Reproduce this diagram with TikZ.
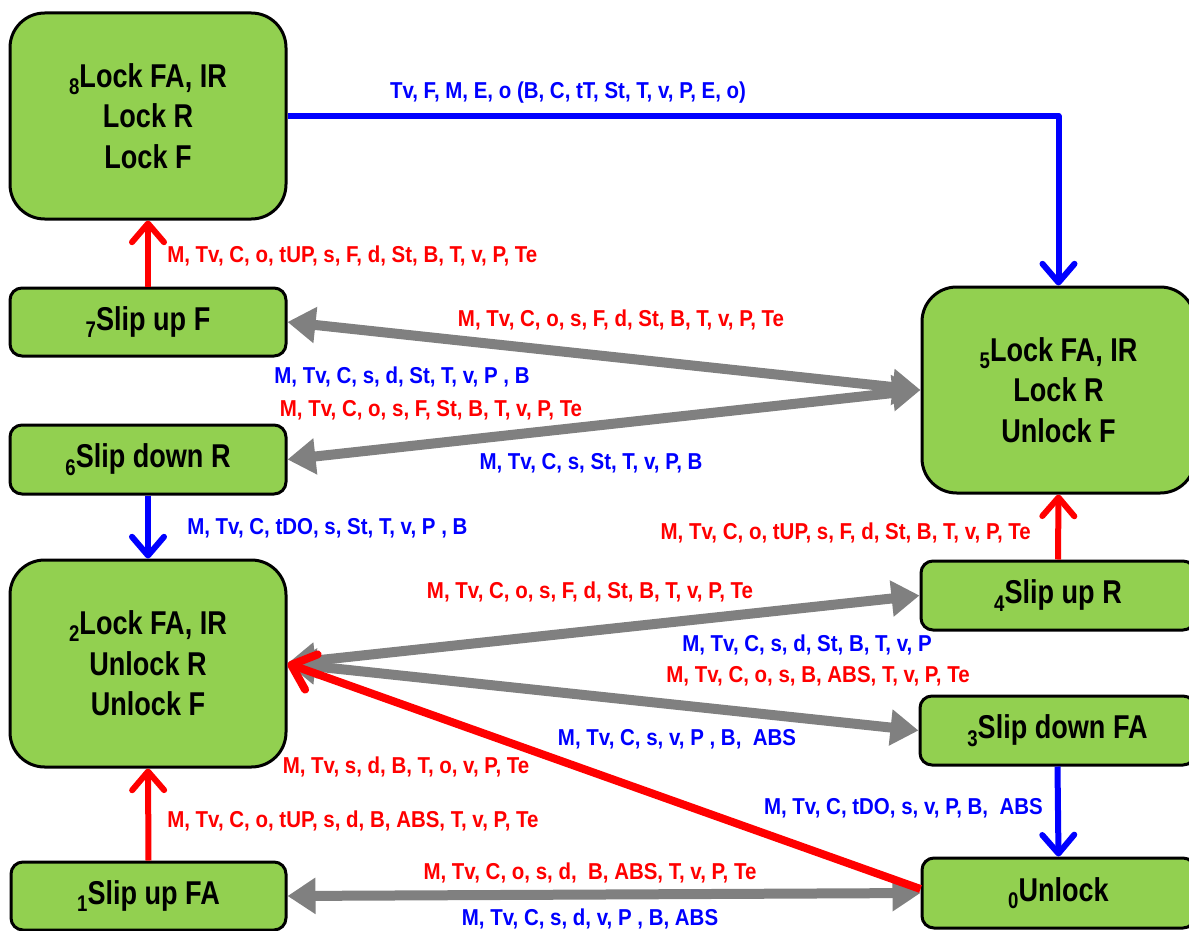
\documentclass[tikz,border=0pt]{standalone}
\usepackage{fontspec}
\setmainfont{Liberation Sans}
\newfontfamily\boxfont{Liberation Sans}[FakeStretch=0.82]
\newfontfamily\lblfont{Liberation Sans}[FakeStretch=0.89]
\usetikzlibrary{arrows.meta}
\definecolor{boxgreen}{RGB}{146,208,80}
\definecolor{lblblue}{RGB}{0,0,255}
\definecolor{lblred}{RGB}{255,0,0}
\definecolor{arrgray}{RGB}{128,128,128}
% lowered state index in front of a state name
\newcommand\idx[1]{\raisebox{-5.5pt}{\fontsize{17pt}{17pt}\selectfont #1}}
\tikzset{
  state/.style={draw=black, line width=2.25pt, fill=boxgreen, inner sep=0pt,
    align=center, font=\boxfont\bfseries\fontsize{24.75pt}{30.5pt}\selectfont},
  bigstate/.style={state, rounded corners=26pt, minimum width=207pt, minimum height=154.5pt},
  smallstate/.style={state, rounded corners=9pt, minimum width=207pt, minimum height=51.75pt},
  lbl/.style={inner sep=0pt, font=\lblfont\bfseries\fontsize{17.25pt}{20pt}\selectfont},
  redlbl/.style={lbl, text=lblred},
  bluelbl/.style={lbl, text=lblblue},
  bluearrow/.style={draw=lblblue, line width=4.5pt, line join=round,
    -{Straight Barb[length=14pt,width=24pt,round]}},
  redarrow/.style={draw=lblred, line width=4.5pt,
    -{Straight Barb[length=14pt,width=24pt,round]}},
  thickred/.style={draw=lblred, line width=6pt,
    -{Straight Barb[length=16pt,width=28pt,round]}},
  grayarrow/.style={draw=arrgray, line width=7.5pt,
    {Triangle[length=21pt,width=26pt]}-{Triangle[length=21pt,width=26pt]}},
}
\begin{document}
\begin{tikzpicture}[x=0.75pt,y=-0.75pt]
\useasboundingbox (0,0) rectangle (1189,931);
\clip (0,0) rectangle (1189,931);

% states
\node[bigstate] (n8) at (148,116) {\idx{8}Lock FA, IR\\Lock R\\Lock F};
\node[smallstate, minimum height=51pt] (n7) at (148,322) {\idx{7}Slip up F};
\node[smallstate] (n6) at (148,459.5) {\idx{6}Slip down R};
\node[bigstate, minimum height=155.25pt] (n2) at (148,663.5) {\idx{2}Lock FA, IR\\Unlock R\\Unlock F};
\node[smallstate, minimum height=51pt, minimum width=206.25pt] (n1) at (148.5,896) {\idx{1}Slip up FA};
\node[bigstate, minimum width=204.75pt] (n5) at (1058.5,390) {\idx{5}Lock FA, IR\\Lock R\\Unlock F};
\node[smallstate, minimum width=205.5pt] (n4) at (1058,595.5) {\idx{4}Slip up R};
\node[smallstate, minimum width=206.25pt] (n3) at (1057.5,730.5) {\idx{3}Slip down FA};
\node[smallstate, minimum width=204.75pt, minimum height=52.5pt] (n0) at (1058.5,893) {\idx{0}Unlock};

% transitions
\draw[bluearrow] (n8.east) -| (n5.north);
\draw[redarrow] (n7.north) -- (n8.south);
\draw[grayarrow] (n7.east) -- (n5.west);
\draw[grayarrow] (n6.east) -- (n5.west);
\draw[bluearrow] (n6.south) -- (n2.north);
\draw[redarrow] (n4.north) -- (n5.south);
\draw[grayarrow] (n2.east) -- (n4.west);
\draw[grayarrow] (n2.east) -- (n3.west);
\draw[bluearrow] (n3.south) -- (n0.north);
\draw[redarrow] (n1.north) -- (n2.south);
\draw[grayarrow] (n1.east) -- (n0.west);
\draw[thickred] ([yshift=3pt]n0.west) -- (n2.east);

% transition conditions
\node[bluelbl] (c85) at (568,93) {Tv, F, M, E, o (B, C, tT, St, T, v, P, E, o)};
\node[redlbl, anchor=west] (c78) at (167,256) {M, Tv, C, o, tUP, s, F, d, St, B, T, v, P, Te};
\node[redlbl] (c57) at (621,320) {M, Tv, C, o, s, F, d, St, B, T, v, P, Te};
\node[bluelbl] (c75) at (402,377) {M, Tv, C, s, d, St, T, v, P , B};
\node[redlbl] (c56) at (431,410) {M, Tv, C, o, s, F, St, B, T, v, P, Te};
\node[bluelbl] (c65) at (591,463) {M, Tv, C, s, St, T, v, P, B};
\node[bluelbl, anchor=west] (c62) at (187,528) {M, Tv, C, tDO, s, St, T, v, P , B};
\node[redlbl, anchor=east] (c45) at (1031,533) {M, Tv, C, o, tUP, s, F, d, St, B, T, v, P, Te};
\node[redlbl] (c24) at (590,592) {M, Tv, C, o, s, F, d, St, B, T, v, P, Te};
\node[bluelbl] (c42) at (807,645) {M, Tv, C, s, d, St, B, T, v, P};
\node[redlbl] (c23) at (818,676) {M, Tv, C, o, s, B, ABS, T, v, P, Te};
\node[bluelbl] (c32) at (677,739) {M, Tv, C, s, v, P , B,~ ABS};
\node[redlbl] (c02) at (406,767) {M, Tv, s, d, B, T, o, v, P, Te};
\node[bluelbl, anchor=east] (c30) at (1043,808) {M, Tv, C, tDO, s, v, P, B,~ ABS};
\node[redlbl, anchor=west] (c12) at (167,821) {M, Tv, C, o, tUP, s, d, B, ABS, T, v, P, Te};
\node[redlbl] (c10) at (590,873) {M, Tv, C, o, s, d,~ B, ABS, T, v, P, Te};
\node[bluelbl] (c01) at (590,919) {M, Tv, C, s, d, v, P , B, ABS};
\end{tikzpicture}
\end{document}
